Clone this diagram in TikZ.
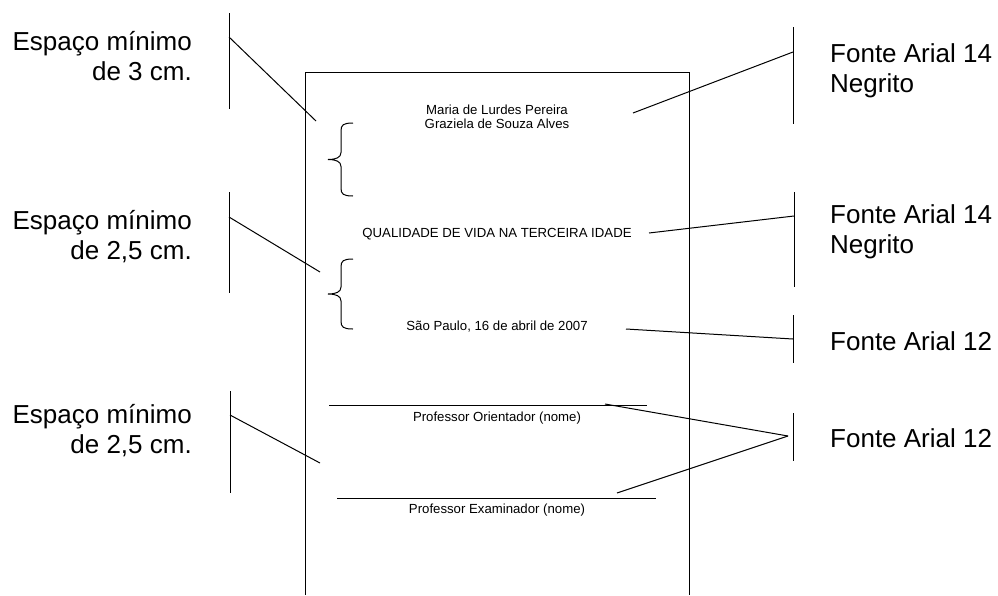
\documentclass[tikz,border=0pt]{standalone}
\usepackage{fontspec}
\setmainfont{Liberation Sans}
\usetikzlibrary{positioning}

\tikzset{
  linha/.style={line width=1pt},
  rotulo/.style={inner sep=0pt,font=\fontsize{26}{29.5}\selectfont},
  texto/.style={inner sep=0pt,font=\fontsize{13.2}{14}\selectfont}
}

\begin{document}
\begin{tikzpicture}[x=1pt,y=-1pt]

	\useasboundingbox (0,0) rectangle (998,595);

	% folha
	\draw[linha] (305,595) -- (305,72) -- (689,72) -- (689,595);

	% textos da folha
	\node[texto,anchor=base] (autor1) at (497,114) {Maria de Lurdes Pereira};
	\node[texto,anchor=base] (autor2) at (497,128) {Graziela de Souza Alves};
	\node[texto,anchor=base] (titulo) at (497,237) {QUALIDADE DE VIDA NA TERCEIRA IDADE};
	\node[texto,anchor=base] (local) at (497,330) {S\~ao Paulo, 16 de abril de 2007};
	\node[texto,anchor=base] (orient) at (497,421) {Professor Orientador (nome)};
	\node[texto,anchor=base] (exam) at (497,513) {Professor Examinador (nome)};

	\draw[line width=0.7pt] (329,405) -- (647,405);
	\draw[line width=0.7pt] (337,498) -- (656,498);

	% chaves
	\foreach \t/\b in {123/196, 259/329} {
		\draw[linha] (353,\t) .. controls (343,\t) and (341,\t+2) .. (341,\t+8)
			-- (341,{(\t+\b)/2-7}) .. controls (341,{(\t+\b)/2-2}) and (336,{(\t+\b)/2}) .. (328,{(\t+\b)/2})
			.. controls (336,{(\t+\b)/2}) and (341,{(\t+\b)/2+2}) .. (341,{(\t+\b)/2+7})
			-- (341,\b-8) .. controls (341,\b-2) and (343,\b) .. (353,\b);
	}

	% rotulos da esquerda (base = ultima linha)
	\node[rotulo,anchor=base east,align=right] (esp1) at (192,80) {Espa\c{c}o m\'inimo\\de 3 cm.};
	\node[rotulo,anchor=base east,align=right] (esp2) at (192,259) {Espa\c{c}o m\'inimo\\de 2,5 cm.};
	\node[rotulo,anchor=base east,align=right] (esp3) at (192,453) {Espa\c{c}o m\'inimo\\de 2,5 cm.};

	\draw[linha] (229,13) -- (229,109);
	\draw[linha] (229,192) -- (229,293);
	\draw[linha] (230,391) -- (230,493);

	\coordinate (e1) at (229,37);  \coordinate (f1) at (316,121);
	\coordinate (e2) at (229,217); \coordinate (f2) at (320,272);
	\coordinate (e3) at (230,415); \coordinate (f3) at (320,463);
	\draw[linha] (e1) -- (f1);
	\draw[linha] (e2) -- (f2);
	\draw[linha] (e3) -- (f3);

	% rotulos da direita
	\node[rotulo,anchor=base west,align=left] (fonte1) at (830,92) {Fonte Arial 14\\Negrito};
	\node[rotulo,anchor=base west,align=left] (fonte2) at (830,253) {Fonte Arial 14\\Negrito};
	\node[rotulo,anchor=base west] (fonte3) at (830,350) {Fonte Arial 12};
	\node[rotulo,anchor=base west] (fonte4) at (830,447) {Fonte Arial 12};

	\draw[linha] (793,27) -- (793,124);
	\draw[linha] (794,192) -- (794,287);
	\draw[linha] (793,315) -- (793,363);
	\draw[linha] (793,413) -- (793,461);

	\coordinate (d1) at (793,52);  \coordinate (g1) at (633,113);
	\coordinate (d2) at (794,216); \coordinate (g2) at (649,233);
	\coordinate (d3) at (793,339); \coordinate (g3) at (626,329);
	\coordinate (d4) at (788,436); \coordinate (g4) at (605,404);
	\coordinate (g5) at (617,493);
	\draw[linha] (d1) -- (g1);
	\draw[linha] (d2) -- (g2);
	\draw[linha] (d3) -- (g3);
	\draw[linha] (d4) -- (g4);
	\draw[linha] (d4) -- (g5);

\end{tikzpicture}
\end{document}
